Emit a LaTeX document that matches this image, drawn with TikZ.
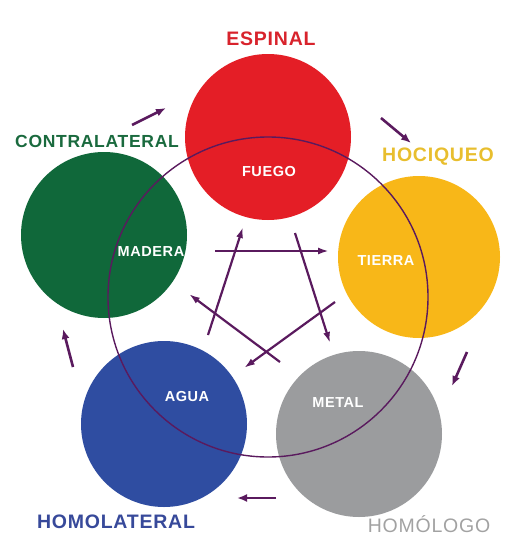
\documentclass[tikz,border=0pt]{standalone}
\usepackage{fontspec}
\setmainfont{Liberation Sans}
\newfontfamily\spacedfont[LetterSpace=4]{Liberation Sans}
\usepackage{xcolor}
\usetikzlibrary{arrows.meta}

\definecolor{fuegoRed}{HTML}{E41E26}
\definecolor{maderaGreen}{HTML}{10683A}
\definecolor{tierraYellow}{HTML}{F8B718}
\definecolor{aguaBlue}{HTML}{2F4DA1}
\definecolor{metalGray}{HTML}{9B9C9E}
\definecolor{cicloPurple}{HTML}{5A1A5E}
\definecolor{espinalText}{HTML}{D8232C}
\definecolor{contraText}{HTML}{1A6A3E}
\definecolor{hociqueoText}{HTML}{E8BE2E}
\definecolor{homolatText}{HTML}{37499A}
\definecolor{homologoText}{HTML}{A2A2A2}

\begin{document}
\begin{tikzpicture}[x=1pt, y=-1pt,
    element/.style={circle, inner sep=0pt, minimum size=166pt},
    inner/.style={text=white, font=\spacedfont\bfseries\fontsize{14.5}{18}\selectfont},
    outer/.style={font=\spacedfont\bfseries\fontsize{19.5}{24}\selectfont},
    gen/.style={draw=cicloPurple, line width=2.6pt, -{Latex[length=10pt,width=8pt]}},
    ctl/.style={draw=cicloPurple, line width=2.2pt, -{Latex[length=11pt,width=7pt]}}]
    \useasboundingbox (0,0) rectangle (511,538);

    % Five elements
    \node[element, fill=fuegoRed] (fuego) at (268,137) {};
    \node[element, fill=maderaGreen] (madera) at (104,235) {};
    \node[element, fill=tierraYellow, minimum size=162pt] (tierra) at (419,257) {};
    \node[element, fill=aguaBlue] (agua) at (164,424) {};
    \node[element, fill=metalGray] (metal) at (359,434) {};

    % Big circle
    \node[circle, draw=cicloPurple, line width=1.4pt, minimum size=320pt, inner sep=0pt] (ring) at (268,297) {};

    % Element names
    \node[inner] (fuegoTxt) at (269,172) {FUEGO};
    \node[inner] (maderaTxt) at (151,252) {MADERA};
    \node[inner] (tierraTxt) at (386,261) {TIERRA};
    \node[inner] (aguaTxt) at (187,397) {AGUA};
    \node[inner] (metalTxt) at (338,403) {METAL};

    % Outer labels
    \node[outer, text=espinalText] (espinal) at (271,39) {ESPINAL};
    \node[outer, text=contraText, font=\spacedfont\bfseries\fontsize{17.5}{22}\selectfont] (contra) at (97,141) {CONTRALATERAL};
    \node[outer, text=hociqueoText] (hociqueo) at (438,157) {HOCIQUEO};
    \node[outer, text=homolatText] (homolat) at (116,522) {HOMOLATERAL};
    \node[outer, text=homologoText, font=\spacedfont\fontsize{19.5}{24}\selectfont] (homologo) at (429,524) {HOMÓLOGO};

    % Generating cycle (outside)
    \coordinate (mf-a) at (132,125);
    \coordinate (mf-b) at (166,108);
    \coordinate (ft-a) at (381,118);
    \coordinate (ft-b) at (411,143);
    \coordinate (tm-a) at (467,352);
    \coordinate (tm-b) at (452,386);
    \coordinate (ma-a) at (276,498);
    \coordinate (ma-b) at (237,498);
    \coordinate (am-a) at (73,367);
    \coordinate (am-b) at (63,329);
    \draw[gen] (mf-a) -- (mf-b);
    \draw[gen] (ft-a) -- (ft-b);
    \draw[gen] (tm-a) -- (tm-b);
    \draw[gen] (ma-a) -- (ma-b);
    \draw[gen] (am-a) -- (am-b);

    % Control cycle (star)
    \coordinate (mt-a) at (215,251);
    \coordinate (mt-b) at (329,251);
    \coordinate (fm-a) at (295,233);
    \coordinate (fm-b) at (330,343);
    \coordinate (ta-a) at (335,302);
    \coordinate (ta-b) at (244,368);
    \coordinate (mm-a) at (280,362);
    \coordinate (mm-b) at (189,294);
    \coordinate (af-a) at (208,335);
    \coordinate (af-b) at (243,227);
    \draw[ctl] (mt-a) -- (mt-b);
    \draw[ctl] (fm-a) -- (fm-b);
    \draw[ctl] (ta-a) -- (ta-b);
    \draw[ctl] (mm-a) -- (mm-b);
    \draw[ctl] (af-a) -- (af-b);
\end{tikzpicture}
\end{document}
